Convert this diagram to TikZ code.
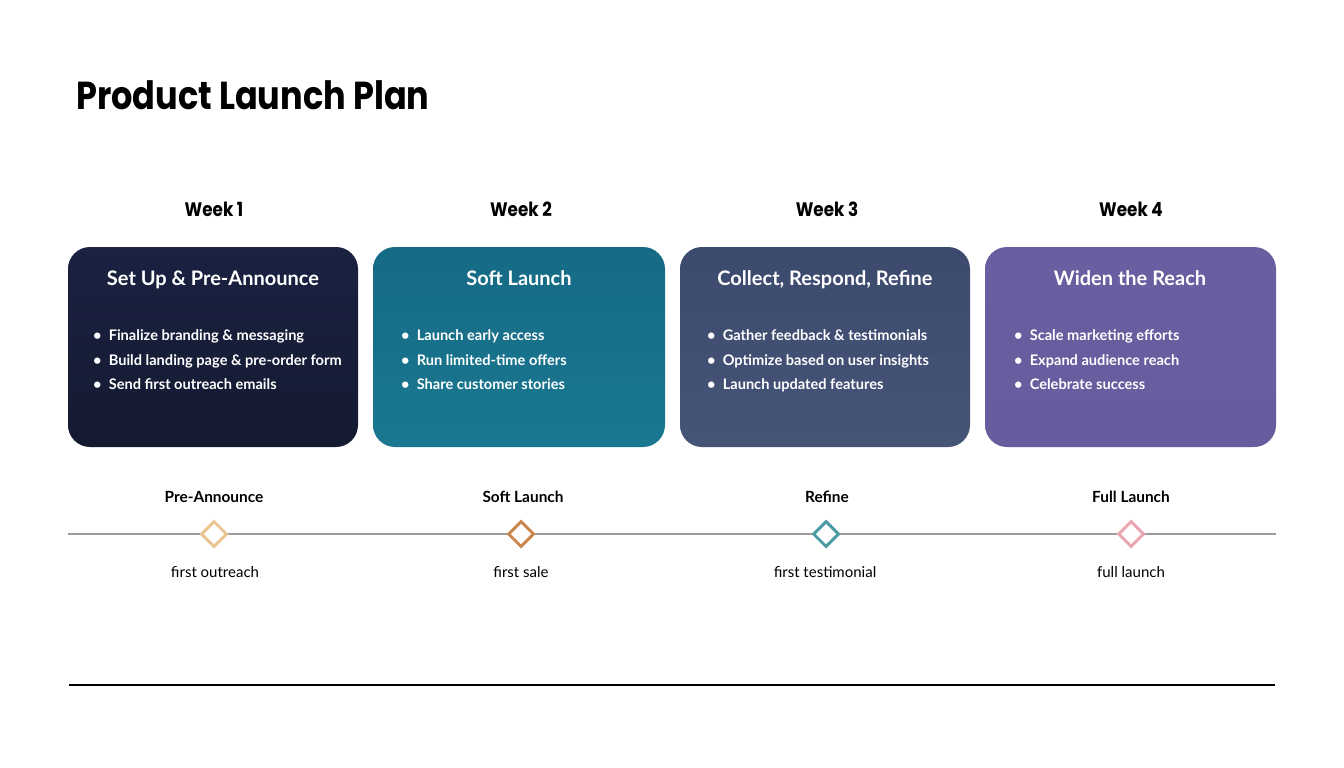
\documentclass[tikz,border=0pt]{standalone}
\usepackage{fontspec}
\setmainfont{Lato}
\newfontfamily\titlefont[FakeStretch=0.86]{Poppins}
\usetikzlibrary{shapes.geometric}
\definecolor{bAtop}{HTML}{1B2242}
\definecolor{bAbot}{HTML}{141A30}
\definecolor{bBtop}{HTML}{166A86}
\definecolor{bBbot}{HTML}{1A7890}
\definecolor{bCtop}{HTML}{3C4A6E}
\definecolor{bCbot}{HTML}{465478}
\definecolor{bDtop}{HTML}{6A5EA0}
\definecolor{bDbot}{HTML}{665C9E}
\definecolor{dA}{HTML}{EBC493}
\definecolor{dB}{HTML}{C9874E}
\definecolor{dC}{HTML}{4C9CA6}
\definecolor{dD}{HTML}{EBA7B1}
\definecolor{tline}{HTML}{9C9C9C}
\tikzset{
  card/.style={rounded corners=22pt, minimum width=290pt, minimum height=200pt, inner sep=0pt},
  weeklbl/.style={font=\titlefont\bfseries\fontsize{19.5}{22}\selectfont, anchor=base},
  cardtitle/.style={text=white, font=\bfseries\fontsize{20}{23}\selectfont, anchor=base},
  bullets/.style={text=white, font=\bfseries\fontsize{14.6}{24.5}\selectfont, anchor=north west, align=left, inner sep=0pt},
  mstone/.style={diamond, draw, fill=white, line width=3pt, minimum width=26pt, minimum height=26pt, inner sep=0pt},
  toplbl/.style={font=\bfseries\fontsize{15.4}{18}\selectfont, anchor=base},
  botlbl/.style={font=\fontsize{15}{18}\selectfont, anchor=base},
}
\begin{document}
\begin{tikzpicture}[x=1pt,y=-1pt]
\useasboundingbox (0,0) rectangle (1344,768);
\fill[white] (0,0) rectangle (1344,768);
% title
\node[anchor=base west, inner sep=0pt, font=\titlefont\bfseries\fontsize{39}{44}\selectfont] (title) at (76,109) {Product Launch Plan};
% week labels
\node[weeklbl] (w1) at (214,216) {Week 1};
\node[weeklbl] (w2) at (521,216) {Week 2};
\node[weeklbl] (w3) at (827,216) {Week 3};
\node[weeklbl] (w4) at (1131,216) {Week 4};
% cards
\node[card, top color=bAtop, bottom color=bAbot] (c1) at (213,347) {};
\node[card, top color=bBtop, bottom color=bBbot, minimum width=292pt] (c2) at (519,347) {};
\node[card, top color=bCtop, bottom color=bCbot] (c3) at (825,347) {};
\node[card, top color=bDtop, bottom color=bDbot, minimum width=291pt] (c4) at (1130.5,347) {};
\node[cardtitle] (t1) at (213,285) {Set Up \& Pre-Announce};
\node[cardtitle] (t2) at (519,285) {Soft Launch};
\node[cardtitle] (t3) at (825,285) {Collect, Respond, Refine};
\node[cardtitle] (t4) at (1130,285) {Widen the Reach};
\node[bullets] (l1) at (93,329.5) {• \ Finalize branding \& messaging\\• \ Build landing page \& pre-order form\\• \ Send first outreach emails};
\node[bullets] (l2) at (401,329.5) {• \ Launch early access\\• \ Run limited-time offers\\• \ Share customer stories};
\node[bullets] (l3) at (707,329.5) {• \ Gather feedback \& testimonials\\• \ Optimize based on user insights\\• \ Launch updated features};
\node[bullets] (l4) at (1014,329.5) {• \ Scale marketing efforts\\• \ Expand audience reach\\• \ Celebrate success};
% timeline
\coordinate (tl) at (68,534);
\coordinate (tr) at (1276,534);
\draw[tline, line width=1.4pt] (tl) -- (tr);
\node[mstone, draw=dA] (m1) at (214,534) {};
\node[mstone, draw=dB] (m2) at (521,534) {};
\node[mstone, draw=dC] (m3) at (826,534) {};
\node[mstone, draw=dD] (m4) at (1131,534) {};
\node[toplbl] (a1) at (214,502) {Pre-Announce};
\node[toplbl] (a2) at (523,502) {Soft Launch};
\node[toplbl] (a3) at (827,502) {Refine};
\node[toplbl] (a4) at (1131,502) {Full Launch};
\node[botlbl] (b1) at (215,577) {first outreach};
\node[botlbl] (b2) at (521,577) {first sale};
\node[botlbl] (b3) at (825,577) {first testimonial};
\node[botlbl] (b4) at (1131,577) {full launch};
% bottom rule
\coordinate (rl) at (69,685);
\coordinate (rr) at (1275,685);
\draw[black, line width=1.2pt] (rl) -- (rr);
\end{tikzpicture}
\end{document}
